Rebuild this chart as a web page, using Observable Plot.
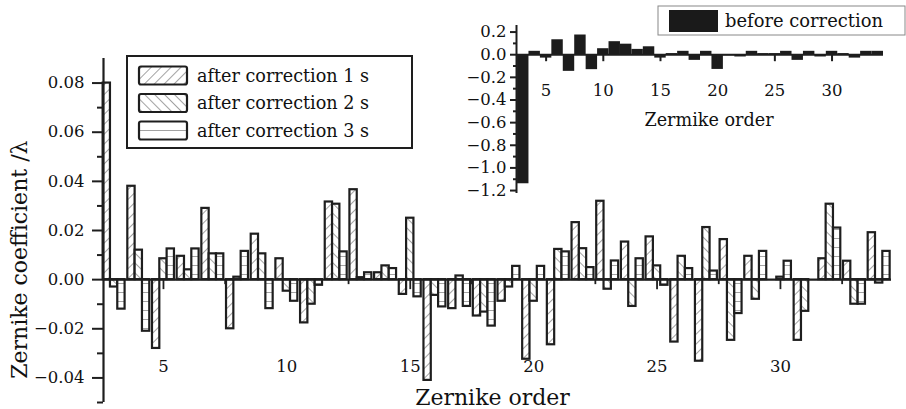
<!DOCTYPE html>
<html><head><meta charset="utf-8">
<script src="https://cdn.jsdelivr.net/npm/d3@7"></script>
<script src="https://cdn.jsdelivr.net/npm/@observablehq/plot@0.6"></script>
<style>
html,body{margin:0;padding:0;background:#fff;}
#wrap{position:relative;width:906px;height:409px;overflow:hidden;background:#fff;}
#wrap svg{position:absolute;left:0;top:0;overflow:visible;}
</style></head><body><div id="wrap"></div>
<script>
// ---- data ----
const orders = [3,4,5,6,7,8,9,10,11,12,13,14,15,16,17,18,19,20,21,22,23,24,25,26,27,28,29,30,31,32,33,34];
const after1s = [0.080,0.038,-0.028,0.0095,0.029,-0.020,0.0185,0.0085,-0.0176,0.0316,0.0366,0.0028,-0.006,-0.041,-0.0118,-0.0148,-0.0088,-0.0324,-0.0265,0.0232,0.0319,0.0153,0.0174,-0.0254,-0.0332,0.0163,0.0095,0.0,-0.0247,0.0085,0.0075,0.0191];
const after2s = [-0.003,0.012,0.0085,0.004,0.0105,0.001,0.0105,-0.0047,-0.010,0.0307,0.0008,0.0056,0.025,-0.0064,0.0015,-0.0132,-0.003,-0.0088,0.0123,0.0126,-0.0039,-0.0109,0.0056,0.0095,0.0212,-0.0247,-0.008,0.001,-0.0129,0.0307,-0.010,-0.0014];
const after3s = [-0.012,-0.021,0.0125,0.0125,0.0105,0.0115,-0.0118,-0.0088,-0.0023,0.0113,0.0028,0.0045,-0.007,-0.0111,-0.0109,-0.0189,0.0054,0.0054,0.0113,0.0049,0.0076,0.0085,-0.0023,0.0045,0.0035,-0.0138,0.0115,0.0075,0.0,0.021,-0.010,0.0115];
const beforeCorr = [-1.14,0.03,-0.03,0.132,-0.147,0.174,-0.132,0.053,0.115,0.093,0.047,0.07,-0.03,0.01,0.03,-0.05,0.03,-0.13,-0.01,-0.02,0.03,0.01,0.01,0.03,-0.05,0.03,-0.02,0.03,0.01,-0.03,0.03,0.03];
const seriesNames = ["after correction 1 s","after correction 2 s","after correction 3 s"];
const insetName = "before correction";
const mainYTicks = [-0.04,-0.02,0.00,0.02,0.04,0.06,0.08];
const mainYMinor = [-0.05,-0.03,-0.01,0.01,0.03,0.05,0.07];
const xTickLabels = [5,10,15,20,25,30];
const xMinorTicks = [7.5,12.5,17.5,22.5,27.5,32.5];
const insetYTicks = [0.2,0.0,-0.2,-0.4,-0.6,-0.8,-1.0,-1.2];
const insetYMinor = [0.1,-0.1,-0.3,-0.5,-0.7,-0.9,-1.1];
const yTitle = "Zernike coefficient /λ";
const xTitle = "Zernike order";
const insetXTitle = "Zermike order";

const INK = "#1e1e1e";
const TXT = "#111";
const FONT = "DejaVu Serif";
const seriesVals = [after1s, after2s, after3s];
const patternIds = ["hatchA","hatchB","hatchC"];
const rowsFor = k => orders.map((o,i) => ({order:o, k, value: seriesVals[k][i]}));
const groupW = 0.89, barW = groupW/3;

function defs() {
  const g = d3.create("svg:defs");
  const mk = (id, rot) => {
    const p = g.append("pattern").attr("id", id).attr("patternUnits","userSpaceOnUse")
      .attr("width", 7).attr("height", 7).attr("patternTransform", `rotate(${rot})`);
    p.append("rect").attr("width",7).attr("height",7).attr("fill","#fff");
    p.append("line").attr("x1",0.5).attr("x2",0.5).attr("y1",0).attr("y2",7).attr("stroke","#999").attr("stroke-width",0.9);
  };
  mk("hatchA", 45);
  mk("hatchB", -45);
  const p = g.append("pattern").attr("id","hatchC").attr("patternUnits","userSpaceOnUse").attr("width",8).attr("height",9);
  p.append("rect").attr("width",8).attr("height",9).attr("fill","#fff");
  p.append("line").attr("x1",0).attr("x2",8).attr("y1",4.5).attr("y2",4.5).attr("stroke","#999").attr("stroke-width",0.9);
  return g.node();
}

function mainLegend() {
  const g = d3.create("svg:g");
  g.append("rect").attr("x",127).attr("y",56).attr("width",285).attr("height",92)
    .attr("fill","#fff").attr("stroke",INK).attr("stroke-width",2);
  seriesNames.forEach((name,k) => {
    const cy = 75.5 + k*27.5;
    g.append("rect").attr("x",139).attr("y",cy-9).attr("width",48).attr("height",18).attr("rx",2)
      .attr("fill",`url(#${patternIds[k]})`).attr("stroke",INK).attr("stroke-width",2.2);
    g.append("text").attr("x",197).attr("y",cy).attr("dy","0.35em").attr("text-anchor","start")
      .attr("font-family",FONT).attr("font-size",17.6).attr("fill",TXT).text(name);
  });
  return g.node();
}

const main = Plot.plot({
  width: 906, height: 409,
  marginLeft: 103, marginRight: 15, marginTop: 58, marginBottom: 7,
  x: {domain: [2.57, 34.5], axis: null},
  y: {domain: [-0.05, 0.09], axis: null},
  style: {fontFamily: FONT, fontSize: "16px", color: INK, background: "transparent", overflow: "visible"},
  marks: [
    defs,
    Plot.ruleX(xTickLabels, {x: d => d, y1: 0, y2: 0, insetBottom: -10, stroke: INK, strokeWidth: 1.8}),
    Plot.ruleX(xMinorTicks, {x: d => d, y1: 0, y2: 0, insetBottom: -5, stroke: INK, strokeWidth: 1.8}),
    ...[0,1,2].map(k => Plot.rectY(rowsFor(k), {
      x1: d => d.order - groupW/2 + d.k*barW,
      x2: d => d.order - groupW/2 + (d.k+1)*barW,
      y1: 0, y2: "value",
      fill: `url(#${patternIds[k]})`, stroke: INK, strokeWidth: 2.2
    })),
    Plot.ruleY([0], {stroke: INK, strokeWidth: 2.2}),
    Plot.ruleX([2.57], {y1: -0.05, y2: 0.09, stroke: INK, strokeWidth: 2.2}),
    Plot.axisY(mainYMinor, {tickSize: 6, tickFormat: () => "", strokeWidth: 2, label: null}),
    Plot.axisY(mainYTicks, {tickSize: 11, tickPadding: 8, strokeWidth: 2, tickFormat: d3.format(".2f"), fontSize: 16.5, fill: TXT, label: null}),
    Plot.text(xTickLabels, {x: d => d, frameAnchor: "top", dy: 302, text: d => String(d), fontSize: 16.5, fill: TXT}),
    Plot.text([xTitle], {frameAnchor: "bottom", lineAnchor: "middle", dx: -5, dy: -5, fontSize: 22, fill: TXT}),
    Plot.text([yTitle], {frameAnchor: "left", textAnchor: "end", rotate: -90, dx: -84, dy: -90, fontSize: 22, fill: TXT}),
    mainLegend
  ]
});

function insetLegend() {
  const g = d3.create("svg:g");
  g.append("rect").attr("x",658).attr("y",6).attr("width",247).attr("height",29)
    .attr("fill","#fff").attr("stroke","#888").attr("stroke-width",1);
  g.append("rect").attr("x",669).attr("y",10).attr("width",49).attr("height",22).attr("fill","#1a1a1a");
  g.append("text").attr("x",725).attr("y",21).attr("dy","0.35em").attr("text-anchor","start")
    .attr("font-family",FONT).attr("font-size",17.9).attr("fill",TXT).text(insetName);
  return g.node();
}

const insetRows = orders.map((o,i) => ({order:o, value: beforeCorr[i]}));
const inset = Plot.plot({
  width: 906, height: 200,
  marginLeft: 516, marginRight: 23, marginTop: 25, marginBottom: 7,
  x: {domain: [2.41, 34.5], axis: null},
  y: {domain: [-1.226, 0.258], axis: null},
  style: {fontFamily: FONT, fontSize: "16px", color: INK, background: "transparent", overflow: "visible"},
  marks: [
    Plot.rectY(insetRows, {x1: d => d.order - 0.5, x2: d => d.order + 0.5, y1: 0, y2: "value", fill: "#1c1c1c"}),
    Plot.ruleY([0], {stroke: INK, strokeWidth: 2}),
    Plot.ruleX(xTickLabels, {x: d => d, y1: 0, y2: 0, insetBottom: -7, stroke: INK, strokeWidth: 2}),
    Plot.ruleX([2.41], {y1: -1.226, y2: 0.258, stroke: INK, strokeWidth: 2}),
    Plot.axisY(insetYMinor, {tickSize: 3, tickFormat: () => "", strokeWidth: 2, label: null}),
    Plot.axisY(insetYTicks, {tickSize: 6, tickPadding: 4, strokeWidth: 2, tickFormat: d3.format(".1f"), fontSize: 16.5, fill: TXT, label: null}),
    Plot.text(xTickLabels, {x: d => d, frameAnchor: "top", dy: 59, text: d => String(d), fontSize: 16.5, fill: TXT}),
    Plot.text([insetXTitle], {frameAnchor: "top", dx: 9, dy: 88, fontSize: 17.6, fill: TXT}),
    insetLegend
  ]
});

const wrap = document.getElementById("wrap");
wrap.appendChild(main);
wrap.appendChild(inset);
</script>
</body></html>
